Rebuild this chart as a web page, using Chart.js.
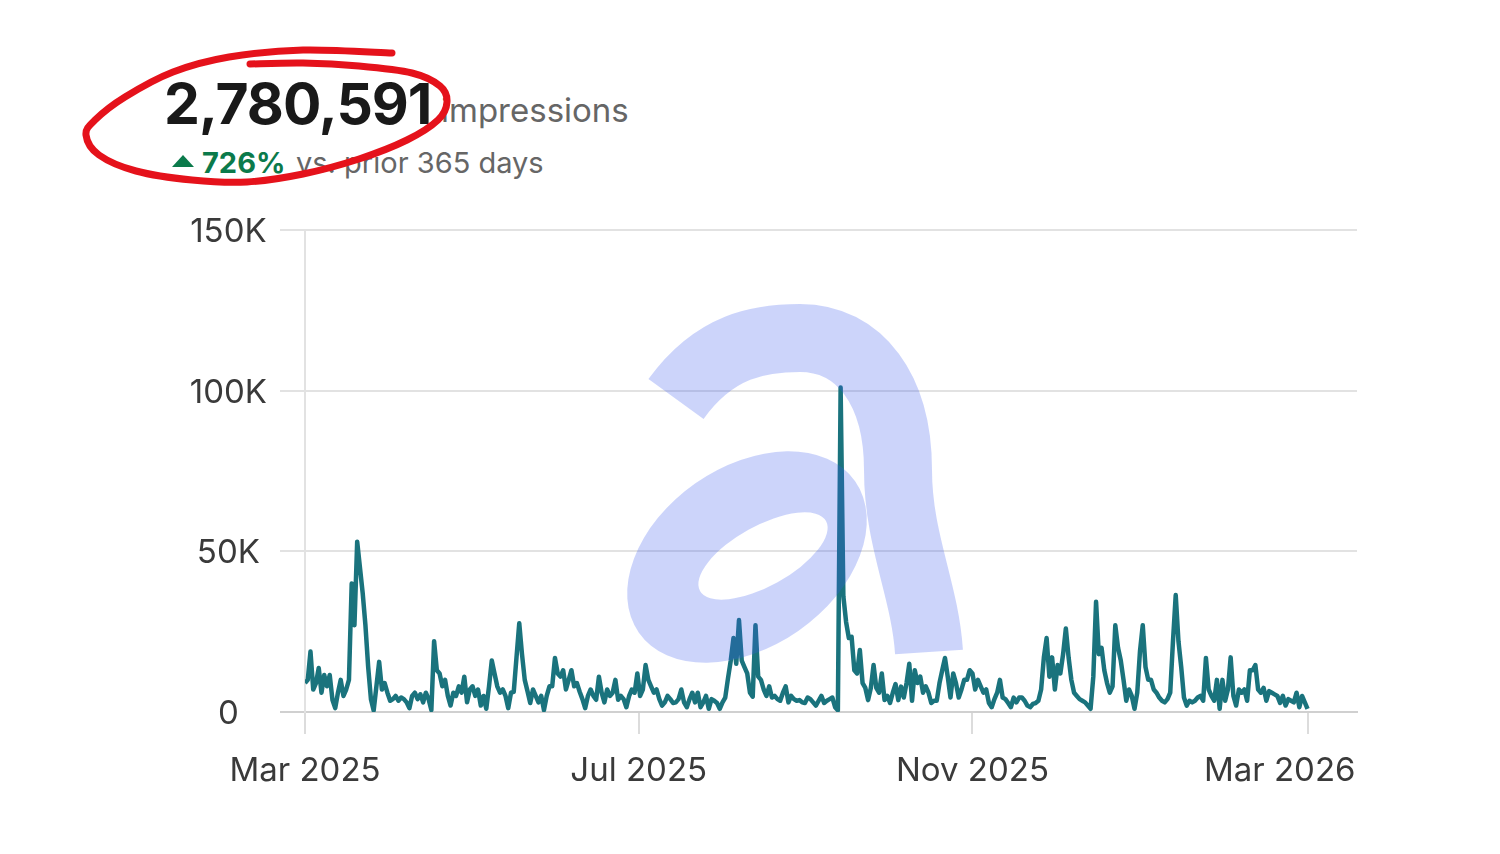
<!DOCTYPE html>
<html>
<head>
<meta charset="utf-8">
<script src="https://cdn.jsdelivr.net/npm/chart.js@4.4.1/dist/chart.umd.min.js"></script>
<style>
  html, body { margin: 0; padding: 0; background: #fff; }
  body { width: 1500px; height: 854px; position: relative; overflow: hidden; font-family: Inter, "Noto Sans", sans-serif; }
  #wrap { position: absolute; left: 0; top: 0; width: 1500px; height: 854px; }
  #mark { position: absolute; left: 0; top: 0; width: 1500px; height: 854px; opacity: 0.26; pointer-events: none; }
  #ink { position: absolute; left: 0; top: 0; width: 1500px; height: 854px; pointer-events: none; }
  .hd { position: absolute; line-height: 1; white-space: nowrap; }
  #total { left: 164px; top: 75px; font-size: 57px; font-weight: 700; color: #191919; letter-spacing: -1px; }
  #unit { left: 441px; top: 94px; font-size: 33px; color: #666; }
  #tri { position: absolute; left: 172px; top: 155px; width: 0; height: 0;
         border-left: 11.5px solid transparent; border-right: 11.5px solid transparent; border-bottom: 12px solid #0b7a4b; }
  #pct { left: 202px; top: 148px; font-size: 29px; font-weight: 700; color: #0b7a4b; }
  #cmp { left: 296px; top: 148px; font-size: 29px; color: #666; }
</style>
</head>
<body>
<div class="hd" id="total">2,780,591</div>
<div class="hd" id="unit">impressions</div>
<div id="tri"></div>
<div class="hd" id="pct">726%</div>
<div class="hd" id="cmp">vs. prior 365 days</div>
<div id="wrap"><canvas id="chart" width="1500" height="854"></canvas></div>
<canvas id="mark" width="1500" height="854"></canvas>
<svg id="ink" width="1500" height="854"><path id="loop" fill="none" stroke="#e5121b" stroke-width="7" stroke-linecap="round" stroke-linejoin="round"/></svg>
<script>
"use strict"

// daily impressions, in thousands, one array per month (Mar 1 2025 .. Mar 1 2026)
const mar25 = [9,10,18.8,7,9,13.7,6,11.5,8,11.5,3.7,1.2,6,10,5,7,10,40,27,53,45,37,27,14,4,0.5,8,15.6,7,9,6];
const apr25 = [3.5,4,5,3.5,4.5,4,3,1.2,5,6,4,5.5,3,6,4,0.6,22,13,12,8,10,5,2,6,5,8,6,11,3,7];
const may25 = [8,5,7,2,5,1,8,16,12,8,6,7,5,1.2,6,6.3,17,27.6,18,10,6.5,2.8,7,5,3,5,0.6,5,8,8,16.8];
const jun25 = [12,11,13,7,10,13,8,9,6.3,4,1.2,5,7,5,3.8,11,6,3,7,5,6,10,3.8,5,4,1.5,5,7,6,12];
const jul25 = [5,7,14.6,10,8,6,7,4,2,3,5,4,2.8,3,4,7,3,1.5,4,6,3,6,1.5,3,5,1,4,3.5,2.8,1,3];
const aug25 = [4.5,10.5,16,23,15,28.6,16,14,12,6,4.8,27,11,10,7,5,8,4.5,5,4,3.5,6,8,3,5,4,3.5,3.7,3,2.8,4.5];
const sep25 = [4,3,2,3.5,5,2.8,3.5,4,4.5,1.5,0.5,101,36,28,23,23.4,13,12,19.3,9,7.5,3.7,7.5,14.6,7.5,6,12,3.7,5,2.8];
const oct25 = [6,8.7,3.7,7.9,4.5,9,15,3.5,13,9,11,6,8,6,2.8,3.5,3.5,9,13,16.8,11,4.5,12,9,4.5,7,10,10,13,12,7];
const nov25 = [10,8,6,7,2.8,1.5,4,6,10,4.5,4,2.8,1.5,4.5,3,4.5,4.5,3.5,2,1.5,2.5,2.8,3.5,7,17,23,11,17,7,14.6];
const dec25 = [12,18,26,17,10,6,5,4,3.5,3,2,1,11,34.3,18,20,13,9,6,8,27,20,16,10,3.5,7,5,1,6,19,27];
const jan26 = [14,10,10,7,6,4.5,3.5,3,4,6,22,36.4,22,14,4.5,2,3.5,3,3.5,4.5,5,3.5,16.8,7,5,3.5,10,1,10,3.5,7];
const feb26 = [17,5,2,7,6,7,3.5,13,13,14.6,7,6,7.5,3.5,6.5,6,5.5,5,2.8,5,2,4,3.5,3,6,1.5,5,3];
const mar26 = [1];

// x tick positions (day index from Mar 1 2025, as spaced on the original axis) and labels
const xTickDays = [0, 121.5, 243, 365];
const xTickLabels = ["Mar 2025", "Jul 2025", "Nov 2025", "Mar 2026"];
// y ticks
const yTickValues = [0, 50000, 100000, 150000];
const yTickLabels = ["0", "50K", "100K", "150K"];

const dailyK = [].concat(mar25, apr25, may25, jun25, jul25, aug25, sep25, oct25, nov25, dec25, jan26, feb26, mar26);
const points = dailyK.map(function(v, i){ return {x: i, y: v * 1000}; });

Chart.defaults.font.family = "Inter, 'Noto Sans', sans-serif";

new Chart(document.getElementById("chart"), {
    type: "line",
    data: {
        datasets: [{
            data: points,
            borderColor: "#1a737d",
            borderWidth: 4.5,
            borderJoinStyle: "round",
            pointRadius: 0,
            tension: 0,
            fill: false
        }]
    },
    options: {
        responsive: false,
        animation: false,
        layout: { padding: { left: 175, right: 143, top: 230, bottom: 62 } },
        plugins: { legend: { display: false }, tooltip: { enabled: false } },
        scales: {
            x: {
                type: "linear",
                min: 0,
                max: 383,
                afterFit: function(scale){ scale.height = 80; },
                afterBuildTicks: function(scale){
                    scale.ticks = xTickDays.map(function(d){ return {value: d}; });
                },
                ticks: {
                    autoSkip: false,
                    maxRotation: 0,
                    padding: 17,
                    color: "#3a3a3a",
                    font: { size: 33 },
                    callback: function(v){
                        const i = xTickDays.indexOf(v);
                        // last label sits flush with the right edge, like the original
                        if (i === xTickDays.length - 1) return xTickLabels[i] + "\u00a0\u00a0\u00a0\u00a0\u00a0\u00a0";
                        return i >= 0 ? xTickLabels[i] : "";
                    }
                },
                grid: { drawOnChartArea: false, drawTicks: true, tickLength: 22, color: "#dcdcdc", lineWidth: 2 },
                border: { display: true, color: "#d0d0d0", width: 2 }
            },
            y: {
                min: 0,
                max: 150000,
                afterFit: function(scale){ scale.width = 130; },
                afterBuildTicks: function(scale){
                    scale.ticks = yTickValues.map(function(v){ return {value: v}; });
                },
                ticks: {
                    padding: 13,
                    crossAlign: "center",
                    labelOffset: 2,
                    color: "#3a3a3a",
                    font: { size: 33 },
                    callback: function(v){
                        const i = yTickValues.indexOf(v);
                        return i >= 0 ? yTickLabels[i] : "";
                    }
                },
                grid: {
                    tickLength: 25,
                    lineWidth: 2,
                    color: function(c){ return c.tick && c.tick.value === 0 ? "#d0d0d0" : "#e2e2e2"; }
                },
                border: { display: true, color: "#e2e2e2", width: 2 }
            }
        }
    }
});

// faint "a" watermark laid over the chart
(function(){
    const ctx = document.getElementById("mark").getContext("2d");
    ctx.fillStyle = ctx.strokeStyle = "rgb(61,92,239)";
    // hook + stem
    ctx.lineWidth = 68;
    ctx.lineCap = "butt";
    ctx.beginPath();
    ctx.moveTo(676, 399);
    ctx.bezierCurveTo(715, 345, 760, 338, 800, 338);
    ctx.bezierCurveTo(860, 338, 898, 390, 898, 470);
    ctx.bezierCurveTo(898, 540, 925, 590, 929, 652);
    ctx.stroke();
    // bowl with a hole
    const rot1 = -35 * Math.PI / 180, rot2 = -29 * Math.PI / 180;
    ctx.beginPath();
    ctx.ellipse(747, 557, 132, 90, rot1, 0, Math.PI * 2);
    ctx.closePath();
    ctx.moveTo(763 + 72 * Math.cos(rot2), 556 + 72 * Math.sin(rot2));
    ctx.ellipse(763, 556, 72, 30, rot2, 0, Math.PI * 2);
    ctx.closePath();
    ctx.fill("evenodd");
})();

// hand drawn red loop round the total
(function(){
    const p = [[392,53],[303,50],[229,57],[173,72],[125,97],[95,120],[86,135],[99,155],[136,171],[192,180],[247,182],
               [303,174],[359,159],[407,140],[438,120],[447,102],[440,86],[412,73],[359,66],[303,63],[250,64]];
    let d = "M" + p[0][0] + "," + p[0][1];
    for (let i = 0; i < p.length - 1; i++) {
        const a = p[Math.max(i - 1, 0)], b = p[i], c = p[i + 1], e = p[Math.min(i + 2, p.length - 1)];
        const c1 = [b[0] + (c[0] - a[0]) / 6, b[1] + (c[1] - a[1]) / 6];
        const c2 = [c[0] - (e[0] - b[0]) / 6, c[1] - (e[1] - b[1]) / 6];
        d += " C" + c1.join(",") + " " + c2.join(",") + " " + c.join(",");
    }
    document.getElementById("loop").setAttribute("d", d);
})();
</script>
</body>
</html>
